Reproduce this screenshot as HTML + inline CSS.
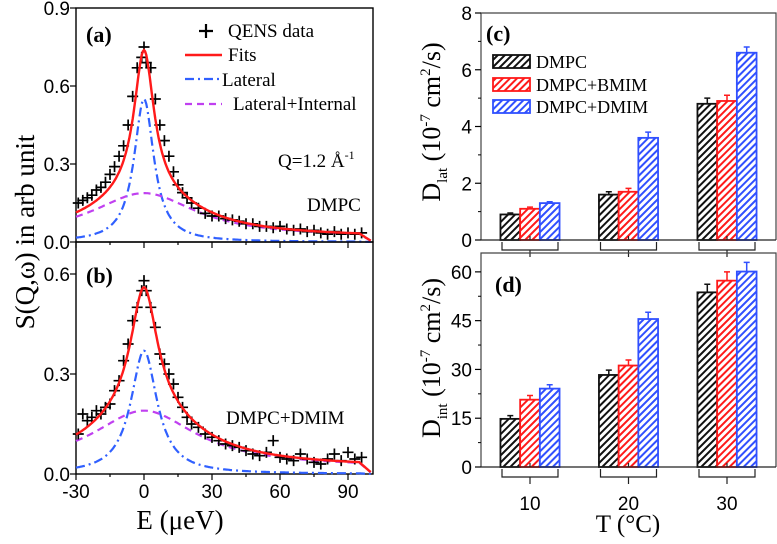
<!DOCTYPE html>
<html><head><meta charset="utf-8"><style>
body{margin:0;background:#fff}
svg{display:block}
.sf{font-family:"Liberation Serif",serif}
.ss{font-family:"Liberation Sans",sans-serif}
</style></head><body>
<svg id="c" width="777" height="544" viewBox="0 0 777 544" xmlns="http://www.w3.org/2000/svg">
<defs>
<pattern id="hk" width="5" height="5" patternUnits="userSpaceOnUse" patternTransform="rotate(45)"><rect width="5" height="5" fill="#fff"/><line x1="1" y1="0" x2="1" y2="5" stroke="#111" stroke-width="2"/></pattern>
<pattern id="hr" width="5" height="5" patternUnits="userSpaceOnUse" patternTransform="rotate(45)"><rect width="5" height="5" fill="#fff"/><line x1="1" y1="0" x2="1" y2="5" stroke="#ff1a1a" stroke-width="2"/></pattern>
<pattern id="hb" width="5" height="5" patternUnits="userSpaceOnUse" patternTransform="rotate(45)"><rect width="5" height="5" fill="#fff"/><line x1="1" y1="0" x2="1" y2="5" stroke="#3050ff" stroke-width="2"/></pattern>
</defs>
<g id="g"></g>
<text class="sf" x="0" y="0" transform="translate(34,232) rotate(-90)" text-anchor="middle" font-size="27">S(Q,ω) in arb unit</text>
<text class="sf" x="180" y="529" text-anchor="middle" font-size="27">E (μeV)</text>
<text class="sf" x="86" y="42" font-size="22" font-weight="bold">(a)</text>
<text class="sf" x="86" y="283" font-size="22" font-weight="bold">(b)</text>
<g class="sf" font-size="19">
<path d="M199 31h14M206 24v14" stroke="#000" stroke-width="2.2"/>
<text x="228" y="37">QENS data</text>
<line x1="185" y1="55" x2="222" y2="55" stroke="#ff1a1a" stroke-width="2.4"/>
<text x="228" y="61">Fits</text>
<line x1="185" y1="79" x2="220" y2="79" stroke="#3060ff" stroke-width="2.2" stroke-dasharray="9,4,2,4"/>
<text x="222" y="86">Lateral</text>
<line x1="185" y1="104" x2="222" y2="104" stroke="#c040f0" stroke-width="2.2" stroke-dasharray="7,5"/>
<text x="233" y="110">Lateral+Internal</text>
</g>
<text class="sf" x="278" y="167" font-size="19">Q=1.2 Å<tspan dy="-8" font-size="12">-1</tspan></text>
<text class="sf" x="307" y="211" font-size="19">DMPC</text>
<text class="sf" x="226" y="424" font-size="19">DMPC+DMIM</text>

<text class="sf" transform="translate(440,122) rotate(-90)" text-anchor="middle" font-size="26">D<tspan dy="7" font-size="15">lat</tspan><tspan dy="-7"> (10</tspan><tspan dy="-10" font-size="15">-7</tspan><tspan dy="10"> cm</tspan><tspan dy="-10" font-size="15">2</tspan><tspan dy="10">/s)</tspan></text>
<text class="sf" transform="translate(440,358) rotate(-90)" text-anchor="middle" font-size="26">D<tspan dy="7" font-size="15">int</tspan><tspan dy="-7"> (10</tspan><tspan dy="-10" font-size="15">-7</tspan><tspan dy="10"> cm</tspan><tspan dy="-10" font-size="15">2</tspan><tspan dy="10">/s)</tspan></text>
<text class="sf" x="628" y="532" text-anchor="middle" font-size="25">T (°C)</text>
<text class="sf" x="486" y="41" font-size="22" font-weight="bold">(c)</text>
<text class="sf" x="495" y="292" font-size="22" font-weight="bold">(d)</text>
<g class="sf" font-size="18">
<rect x="493" y="55" width="37" height="13" fill="url(#hk)" stroke="#111" stroke-width="1.8"/>
<text x="536" y="68">DMPC</text>
<rect x="493" y="78" width="37" height="13" fill="url(#hr)" stroke="#ff1a1a" stroke-width="1.8"/>
<text x="536" y="91">DMPC+BMIM</text>
<rect x="493" y="100" width="37" height="13" fill="url(#hb)" stroke="#3050ff" stroke-width="1.8"/>
<text x="536" y="113">DMPC+DMIM</text>
</g>
</svg>
<script>
// ---- data: left panels ----
const energies = [-29,-27,-25,-23,-21,-19,-17,-15,-13,-11,-9,-7,-5,-3,-1,0,1,3,5,7,9,11,13,15,17,19,21,24,27,30,33,36,39,42,45,48,51,54,57,60,63,66,69,72,75,78,81,84,87,90,93,96];
const qensA = [0.15,0.16,0.17,0.18,0.20,0.21,0.23,0.26,0.29,0.33,0.37,0.45,0.56,0.67,0.71,0.75,0.69,0.67,0.55,0.45,0.39,0.33,0.27,0.22,0.19,0.17,0.15,0.13,0.11,0.10,0.10,0.09,0.085,0.08,0.07,0.07,0.06,0.06,0.055,0.06,0.05,0.045,0.05,0.04,0.045,0.035,0.03,0.04,0.03,0.035,0.03,0.035];
const qensB = [0.12,0.18,0.16,0.17,0.19,0.18,0.20,0.21,0.25,0.28,0.34,0.39,0.46,0.50,0.55,0.58,0.55,0.50,0.44,0.36,0.33,0.30,0.27,0.23,0.20,0.17,0.15,0.14,0.12,0.11,0.10,0.09,0.085,0.08,0.07,0.06,0.055,0.065,0.10,0.05,0.045,0.04,0.06,0.045,0.035,0.03,0.045,0.06,0.04,0.065,0.045,0.05];
// fit parameters: [lateral amplitude, lateral HWHM, internal amplitude, internal HWHM, background]
const fitA = [0.55, 5.3, 0.17, 28, 0.018];
const fitB = [0.37, 7.0, 0.17, 28, 0.02];
const yTicksA = [0, 0.3, 0.6, 0.9];
const yTicksB = [0, 0.3, 0.6];
const xTicksE = [-30, 0, 30, 60, 90];
// ---- data: right panels ----
const temps = ['10','20','30'];
const seriesNames = ['DMPC','DMPC+BMIM','DMPC+DMIM'];
const dlatDMPC = [0.9, 1.6, 4.8];
const dlatBMIM = [1.1, 1.7, 4.9];
const dlatDMIM = [1.3, 3.6, 6.6];
const dlatErrDMPC = [0.05, 0.1, 0.2];
const dlatErrBMIM = [0.06, 0.12, 0.2];
const dlatErrDMIM = [0.05, 0.2, 0.2];
const dintDMPC = [14.8, 28.3, 53.7];
const dintBMIM = [20.7, 31.2, 57.3];
const dintDMIM = [24.1, 45.5, 60.1];
const dintErrDMPC = [1.0, 1.5, 2.5];
const dintErrBMIM = [1.3, 1.7, 2.7];
const dintErrDMIM = [1.2, 2.1, 2.8];
const yTicksC = [0, 2, 4, 6, 8];
const yTicksD = [0, 15, 30, 45, 60];

const NS = 'http://www.w3.org/2000/svg';
const G = document.getElementById('g');
function mk(tag, attrs, parent) {
  const e = document.createElementNS(NS, tag);
  for (const k in attrs) e.setAttribute(k, attrs[k]);
  (parent || G).appendChild(e);
  return e;
}
function lor(E, a, w) { return a * w * w / (E * E + w * w); }

const xE = e => 76 + (e + 30) * 68 / 30;
function leftPanel(top, bottom, ymax, ticks, data, fit, key) {
  const yS = v => bottom - v * (bottom - top) / ymax;
  const frame = mk('rect', {x: 76, y: top, width: 297, height: bottom - top, fill: 'none', stroke: '#000', 'stroke-width': 1.4});
  
  
  ticks.forEach(t => {
    const y = yS(t);
    const tk = mk('line', {x1: 76, x2: 70, y1: y, y2: y, stroke: '#000', 'stroke-width': 1.2});
    
    
    const lb = mk('text', {x: 70, y: y + 7, 'text-anchor': 'end', 'font-size': 19, class: 'ss'});
    lb.textContent = t.toFixed(1);
    
    
  });
  for (let e = -30; e <= 100; e += 15) {
    const x = xE(e);
    const major = e % 30 === 0;
    const tk = mk('line', {x1: x, x2: x, y1: bottom, y2: bottom + (major ? 6 : 3), stroke: '#000', 'stroke-width': 1.2});
    
    
  }
  let pL = '', pI = '', pF = '';
  for (let e = -30; e <= 100; e += 0.5) {
    const damp = e > 95 ? Math.max(0, 1 - (e - 95) / 6) : 1;
    const l = lor(e, fit[0], fit[1]);
    const i = lor(e, fit[2], fit[3]) + fit[4];
    const c = (pL ? 'L' : 'M');
    pL += c + xE(e).toFixed(1) + ' ' + yS(l * damp).toFixed(1);
    pI += c + xE(e).toFixed(1) + ' ' + yS(i * damp).toFixed(1);
    pF += c + xE(e).toFixed(1) + ' ' + yS((l + i) * damp).toFixed(1);
  }
  const cl = mk('path', {d: pL, fill: 'none', stroke: '#3060ff', 'stroke-width': 2.2, 'stroke-dasharray': '9,4,2,4'});
  
  
  const ci = mk('path', {d: pI, fill: 'none', stroke: '#c040f0', 'stroke-width': 2.2, 'stroke-dasharray': '7,5'});
  
  
  data.forEach((v, k) => {
    const x = xE(energies[k]), y = yS(v);
    const p = mk('path', {d: `M${x-5.5} ${y}h11M${x} ${y-5.5}v11`, stroke: '#000', 'stroke-width': 1.7});
    
    
  });
  const cf = mk('path', {d: pF, fill: 'none', stroke: '#ff1a1a', 'stroke-width': 2.4});
  
  
}
leftPanel(8, 242, 0.9, yTicksA, qensA, fitA, 'a');
leftPanel(242, 474, 0.696, yTicksB, qensB, fitB, 'b');
xTicksE.forEach(t => {
  const lb = mk('text', {x: xE(t), y: 498, 'text-anchor': 'middle', 'font-size': 19, class: 'ss'});
  lb.textContent = String(t);
  
  
});

const xT = i => 530 + i * 98.5;
const barW = 19.7;
const fills = ['url(#hk)', 'url(#hr)', 'url(#hb)'];
const strokes = ['#111', '#ff1a1a', '#3050ff'];
function barPanel(top, bottom, ymax, ticks, vals, errs, key) {
  const yS = v => bottom - v * (bottom - top) / ymax;
  const frame = mk('path', {d: `M481 ${bottom}V${top}H776V${bottom}`, fill: 'none', stroke: '#444', 'stroke-width': 1.2});
  
  
  ticks.forEach((t, k) => {
    const y = yS(t);
    const tk = mk('line', {x1: 481, x2: 475, y1: y, y2: y, stroke: '#000', 'stroke-width': 1.2});
    
    
    if (k < ticks.length - 1) {
      const ym = yS((t + ticks[k + 1]) / 2);
      const mt = mk('line', {x1: 481, x2: 478, y1: ym, y2: ym, stroke: '#000', 'stroke-width': 1});
      
      
    }
    const lb = mk('text', {x: 472, y: y + 7, 'text-anchor': 'end', 'font-size': 19, class: 'ss'});
    lb.textContent = String(t);
    
    
  });
  temps.forEach((t, i) => {
    vals.forEach((s, j) => {
      const x = xT(i) - 1.5 * barW + j * barW;
      const y = yS(s[i]);
      const b = mk('rect', {x: x, y: y, width: barW, height: bottom - y, fill: fills[j], stroke: strokes[j], 'stroke-width': 1.8});
      
      
      const ye = yS(s[i] + errs[j][i]), cx = x + barW / 2;
      const eb = mk('path', {d: `M${cx} ${y}V${ye}M${cx-3} ${ye}h6`, stroke: strokes[j], 'stroke-width': 1.5, fill: 'none'});
      
      
    });
    const cx = xT(i), x0 = cx - 28, x1 = cx + 28;
    const br = mk('path', {d: `M${x0} ${bottom+2}V${bottom+10}H${x1}V${bottom+2}M${cx} ${bottom+10}v7M${cx} ${bottom}v-4`, fill: 'none', stroke: '#222', 'stroke-width': 1.2});
    
    
  });
  const ax = mk('line', {x1: 481, x2: 776, y1: bottom, y2: bottom, stroke: '#222', 'stroke-width': 1.3});
  
  
}
barPanel(13, 240, 8, yTicksC, [dlatDMPC, dlatBMIM, dlatDMIM], [dlatErrDMPC, dlatErrBMIM, dlatErrDMIM], 'c');
barPanel(253, 467, 65.8, yTicksD, [dintDMPC, dintBMIM, dintDMIM], [dintErrDMPC, dintErrBMIM, dintErrDMIM], 'd');
temps.forEach((t, i) => {
  const lb = mk('text', {x: xT(i), y: 510, 'text-anchor': 'middle', 'font-size': 19, class: 'ss'});
  lb.textContent = t;
  
  
});
</script>
</body></html>
